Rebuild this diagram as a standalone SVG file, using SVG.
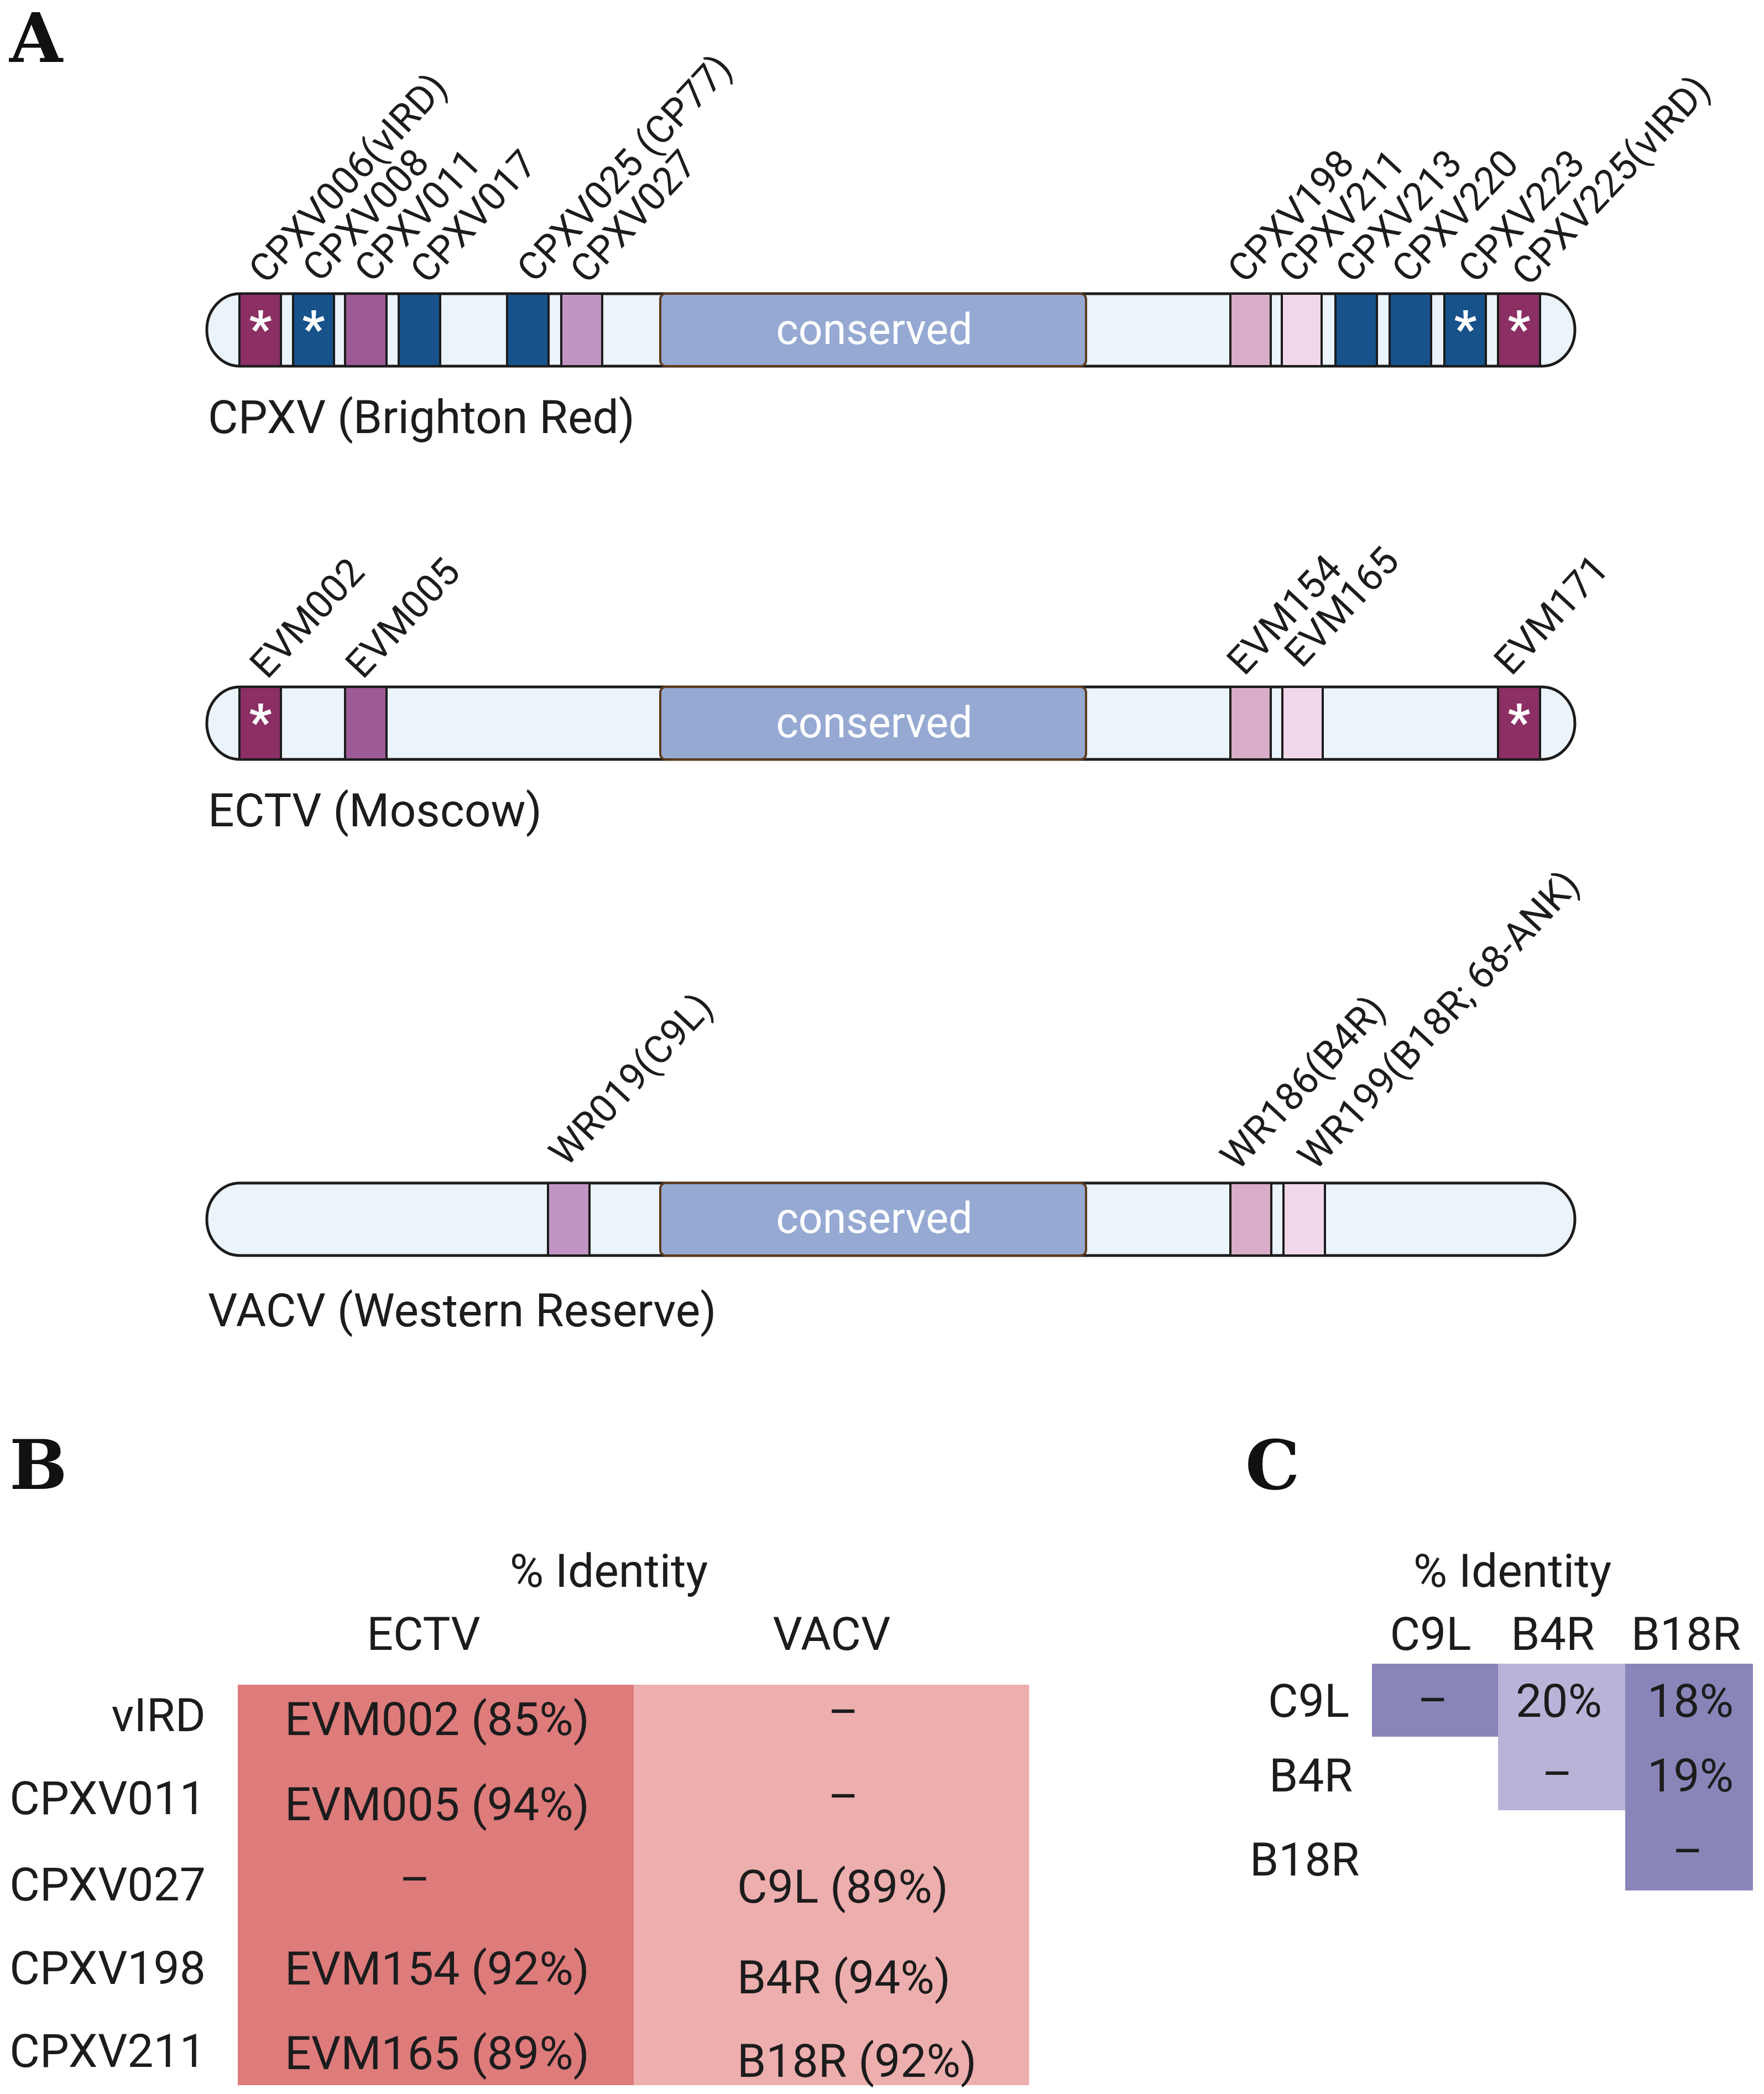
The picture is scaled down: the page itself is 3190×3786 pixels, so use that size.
<svg xmlns="http://www.w3.org/2000/svg" width="3190" height="3786" viewBox="0 0 3190 3786">
<style>
.t{font-family:Roboto,"Liberation Sans",Arial,sans-serif;font-size:84px;fill:#1c1c1c}
.r{font-family:Roboto,"Liberation Sans",Arial,sans-serif;font-size:70px;fill:#1c1c1c}
.m{text-anchor:middle}
.e{text-anchor:end}
.chr{fill:#EBF3FB;stroke:#1c1c1c;stroke-width:5}
.b{stroke:#1c1c1c;stroke-width:4}
.cons{fill:#95A9D3;stroke:#5E3A1C;stroke-width:4}
.ct{font-family:Roboto,"Liberation Sans",Arial,sans-serif;font-size:77px;fill:#ffffff;text-anchor:middle}
.ast{font-family:Roboto,"Liberation Sans",Arial,sans-serif;font-size:90px;font-weight:bold;fill:#ffffff;text-anchor:middle}
.p{font-family:"DejaVu Serif","Liberation Serif",serif;font-weight:bold;font-size:124px;fill:#111}
.mar{fill:#8B2F64}.blu{fill:#17528A}.pur{fill:#9D5A96}.lpu{fill:#C294C3}.pnk{fill:#D9ACC7}.ppk{fill:#F0D7E9}
</style>
<rect width="3190" height="3786" fill="#ffffff"/>
<text class="p" x="17" y="112">A</text>
<text class="p" x="17" y="2692">B</text>
<text class="p" x="2252" y="2692">C</text>

<g id="cpxv">
<rect class="chr" x="374" y="531" width="2474" height="131" rx="60" ry="65"/>
<rect class="b mar" x="433" y="531" width="75" height="131"/>
<rect class="b blu" x="530" y="531" width="74" height="131"/>
<rect class="b pur" x="624" y="531" width="75" height="131"/>
<rect class="b blu" x="721" y="531" width="75" height="131"/>
<rect class="b blu" x="917" y="531" width="75" height="131"/>
<rect class="b lpu" x="1015" y="531" width="74" height="131"/>
<rect class="cons" x="1194" y="531" width="770" height="131" rx="10"/>
<rect class="b pnk" x="2225" y="531" width="73" height="131"/>
<rect class="b ppk" x="2318" y="531" width="72" height="131"/>
<rect class="b blu" x="2415" y="531" width="75" height="131"/>
<rect class="b blu" x="2513" y="531" width="75" height="131"/>
<rect class="b blu" x="2612" y="531" width="75" height="131"/>
<rect class="b mar" x="2709" y="531" width="76" height="131"/>
<text class="ct" x="1581" y="622">conserved</text>
<text class="ast" x="471" y="626">*</text>
<text class="ast" x="567" y="626">*</text>
<text class="ast" x="2650" y="626">*</text>
<text class="ast" x="2747" y="626">*</text>
<text class="r" transform="translate(481,516) rotate(-47)">CPXV006(vIRD)</text>
<text class="r" transform="translate(578,513) rotate(-47)">CPXV008</text>
<text class="r" transform="translate(672,514) rotate(-47)">CPXV011</text>
<text class="r" transform="translate(773,516) rotate(-47)">CPXV017</text>
<text class="r" transform="translate(966,514) rotate(-47)">CPXV025 (CP77)</text>
<text class="r" transform="translate(1062,516) rotate(-47)">CPXV027</text>
<text class="r" transform="translate(2251,515) rotate(-47)">CPXV198</text>
<text class="r" transform="translate(2343,515) rotate(-47)">CPXV211</text>
<text class="r" transform="translate(2446,515) rotate(-47)">CPXV213</text>
<text class="r" transform="translate(2548,515) rotate(-47)">CPXV220</text>
<text class="r" transform="translate(2668,515) rotate(-47)">CPXV223</text>
<text class="r" transform="translate(2765,520) rotate(-47)">CPXV225(vIRD)</text>
<text class="t" x="376" y="783">CPXV (Brighton Red)</text>
</g>

<g id="ectv">
<rect class="chr" x="374" y="1242" width="2474" height="131" rx="60" ry="65"/>
<rect class="b mar" x="433" y="1242" width="75" height="131"/>
<rect class="b pur" x="624" y="1242" width="75" height="131"/>
<rect class="cons" x="1194" y="1242" width="770" height="131" rx="10"/>
<rect class="b pnk" x="2225" y="1242" width="73" height="131"/>
<rect class="b ppk" x="2319" y="1242" width="73" height="131"/>
<rect class="b mar" x="2709" y="1242" width="76" height="131"/>
<text class="ct" x="1581" y="1333">conserved</text>
<text class="ast" x="471" y="1337">*</text>
<text class="ast" x="2747" y="1337">*</text>
<text class="r" transform="translate(483,1230) rotate(-47)">EVM002</text>
<text class="r" transform="translate(656,1230) rotate(-47)">EVM005</text>
<text class="r" transform="translate(2250,1224) rotate(-47)">EVM154</text>
<text class="r" transform="translate(2354,1210) rotate(-47)">EVM165</text>
<text class="r" transform="translate(2733,1224) rotate(-47)">EVM171</text>
<text class="t" x="376" y="1494">ECTV (Moscow)</text>
</g>

<g id="vacv">
<rect class="chr" x="374" y="2139" width="2474" height="131" rx="60" ry="65"/>
<rect class="b lpu" x="991" y="2139" width="75" height="131"/>
<rect class="cons" x="1194" y="2139" width="770" height="131" rx="10"/>
<rect class="b pnk" x="2225" y="2139" width="74" height="131"/>
<rect class="b ppk" x="2321" y="2139" width="75" height="131"/>
<text class="ct" x="1581" y="2229">conserved</text>
<text class="r" transform="translate(1024,2112) rotate(-47)">WR019(C9L)</text>
<text class="r" transform="translate(2238,2119) rotate(-47)">WR186(B4R)</text>
<text class="r" transform="translate(2378,2119) rotate(-47)">WR199(B18R; 68-ANK)</text>
<text class="t" x="376" y="2398">VACV (Western Reserve)</text>
</g>

<g id="tableB">
<rect x="430" y="3046" width="716" height="724" fill="#DE7B7B"/>
<rect x="1146" y="3046" width="715" height="724" fill="#EDAEAE"/>
<text class="t m" x="1101" y="2869">% Identity</text>
<text class="t m" x="766" y="2983">ECTV</text>
<text class="t m" x="1504" y="2983">VACV</text>
<text class="t e" x="372" y="3130">vIRD</text>
<text class="t e" x="372" y="3280">CPXV011</text>
<text class="t e" x="372" y="3436">CPXV027</text>
<text class="t e" x="372" y="3587">CPXV198</text>
<text class="t e" x="372" y="3737">CPXV211</text>
<text class="t" x="515" y="3137">EVM002 (85%)</text>
<text class="t" x="515" y="3291">EVM005 (94%)</text>
<text class="t m" x="750" y="3427">–</text>
<text class="t" x="515" y="3588">EVM154 (92%)</text>
<text class="t" x="515" y="3741">EVM165 (89%)</text>
<text class="t m" x="1525" y="3124">–</text>
<text class="t m" x="1525" y="3277">–</text>
<text class="t" x="1333" y="3440">C9L (89%)</text>
<text class="t" x="1333" y="3604">B4R (94%)</text>
<text class="t" x="1333" y="3755">B18R (92%)</text>
</g>

<g id="tableC">
<rect x="2481" y="3008" width="228" height="132" fill="#8985B9"/>
<rect x="2709" y="3008" width="230" height="265" fill="#B8B3D7"/>
<rect x="2939" y="3008" width="231" height="410" fill="#8985B9"/>
<text class="t m" x="2735" y="2869">% Identity</text>
<text class="t m" x="2587" y="2983">C9L</text>
<text class="t m" x="2808" y="2983">B4R</text>
<text class="t m" x="3049" y="2983">B18R</text>
<text class="t" x="2293" y="3104">C9L</text>
<text class="t" x="2295" y="3239">B4R</text>
<text class="t" x="2260" y="3391">B18R</text>
<text class="t m" x="2591" y="3103">–</text>
<text class="t m" x="2819" y="3104">20%</text>
<text class="t m" x="3057" y="3104">18%</text>
<text class="t m" x="2816" y="3236">–</text>
<text class="t m" x="3057" y="3239">19%</text>
<text class="t m" x="3052" y="3376">–</text>
</g>
</svg>
